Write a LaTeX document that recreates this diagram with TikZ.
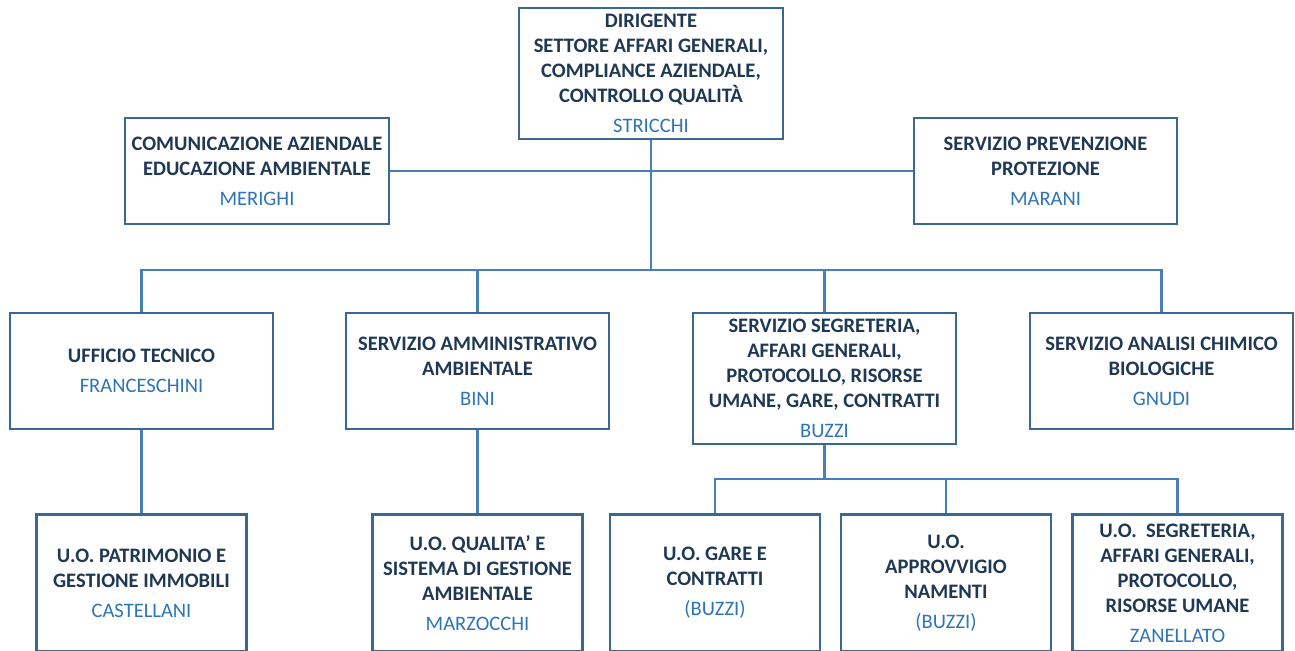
\documentclass[tikz,border=0pt]{standalone}
\usepackage{fontspec}
\setmainfont{Carlito}
\usetikzlibrary{positioning}
\definecolor{boxline}{HTML}{3A6894}
\definecolor{titletxt}{HTML}{1F3854}
\definecolor{nametxt}{HTML}{2E75B6}
\definecolor{linkline}{HTML}{4A7EBB}
\newcommand{\unitname}[1]{\\[2.8pt]\mdseries\color{nametxt}#1}

\begin{document}
\begin{tikzpicture}[x=0.02cm, y=-0.02cm,
  unitbox/.style={draw=boxline, fill=white, line width=1.3pt, align=center, inner sep=0pt,
    text=titletxt, font=\fontsize{11.7}{14.2}\selectfont\bfseries},
  wide/.style={unitbox, minimum width=5.27cm, minimum height=2.32cm},
  small/.style={unitbox, minimum width=4.2cm, minimum height=2.74cm},
  link/.style={draw=linkline, line width=1.2pt}]
\useasboundingbox (0,0) rectangle (1295,650);

% vertice
\node[unitbox, minimum width=5.28cm, minimum height=2.62cm] (dir) at (651,73.5) {DIRIGENTE\\SETTORE AFFARI GENERALI,\\COMPLIANCE AZIENDALE,\\CONTROLLO QUALITÀ\unitname{STRICCHI}};

% staff
\node[unitbox, minimum width=5.28cm, minimum height=2.12cm] (com) at (257,171) {COMUNICAZIONE AZIENDALE\\EDUCAZIONE AMBIENTALE\unitname{MERIGHI}};
\node[unitbox, minimum width=5.26cm, minimum height=2.12cm] (spp) at (1045.5,171) {SERVIZIO PREVENZIONE\\PROTEZIONE\unitname{MARANI}};

% servizi
\node[wide] (tec) at (141.5,371) {UFFICIO TECNICO\unitname{FRANCESCHINI}};
\node[wide] (amm) at (477.5,371) {SERVIZIO AMMINISTRATIVO\\AMBIENTALE\unitname{BINI}};
\node[wide, minimum height=2.62cm] (seg) at (824.5,378.5) {SERVIZIO SEGRETERIA,\\AFFARI GENERALI,\\PROTOCOLLO, RISORSE\\UMANE, GARE, CONTRATTI\unitname{BUZZI}};
\node[wide] (chim) at (1161.5,371) {SERVIZIO ANALISI CHIMICO\\BIOLOGICHE\unitname{GNUDI}};

% unita' operative
\node[small] (pat) at (141.5,583) {U.O. PATRIMONIO E\\GESTIONE IMMOBILI\unitname{CASTELLANI}};
\node[small] (qual) at (477.5,583) {U.O. QUALITA’ E\\SISTEMA DI GESTIONE\\AMBIENTALE\unitname{MARZOCCHI}};
\node[small] (gare) at (715,583) {U.O. GARE E\\CONTRATTI\unitname{(BUZZI)}};
\node[small] (appr) at (946,583) {U.O.\\APPROVVIGIO\\NAMENTI\unitname{(BUZZI)}};
\node[small] (uoseg) at (1177.5,583) {U.O.\ \ SEGRETERIA,\\AFFARI GENERALI,\\PROTOCOLLO,\\RISORSE UMANE\unitname{ZANELLATO}};

% collegamenti
\coordinate (bus) at (651,270);
\coordinate (bus2) at (824.5,479);
\draw[link] (com.east) -- (spp.west);
\draw[link] (dir.south) -- (bus);
\draw[link] (tec.north) |- (bus) -| (chim.north);
\draw[link] (amm.north) -- (amm.north |- bus);
\draw[link] (seg.north) -- (seg.north |- bus);
\draw[link] (tec.south) -- (pat.north);
\draw[link] (amm.south) -- (qual.north);
\draw[link] (seg.south) -- (bus2);
\draw[link] (gare.north) |- (bus2) -| (uoseg.north);
\draw[link] (appr.north) -- (appr.north |- bus2);
\end{tikzpicture}
\end{document}
